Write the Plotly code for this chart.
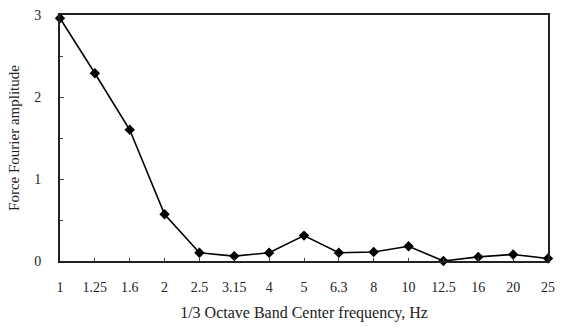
import plotly.graph_objects as go

# 1/3 octave band centre frequencies (Hz) and force Fourier amplitudes
bands = ["1", "1.25", "1.6", "2", "2.5", "3.15", "4", "5", "6.3", "8", "10", "12.5", "16", "20", "25"]
amplitude = [2.96, 2.29, 1.60, 0.57, 0.10, 0.06, 0.10, 0.31, 0.10, 0.11, 0.18, 0.00, 0.05, 0.08, 0.03]

idx = list(range(len(bands)))

fig = go.Figure()
fig.add_trace(go.Scatter(
    x=idx, y=amplitude, mode="lines+markers",
    line=dict(color="black", width=1.6),
    marker=dict(symbol="diamond", size=8, color="black"),
    cliponaxis=False,
    showlegend=False,
))

serif = "Liberation Serif, Times New Roman, serif"
tick_font = dict(family=serif, size=14, color="#222")
xtitle_font = dict(family=serif, size=16, color="#222")
ytitle_font = dict(family=serif, size=15, color="#222")

fig.update_layout(
    width=563, height=327,
    margin=dict(l=60, r=8, t=12, b=66),
    paper_bgcolor="white", plot_bgcolor="white",
    font=tick_font,
)
fig.update_xaxes(
    range=[0, len(bands) - 1],
    tickmode="array", tickvals=idx, ticktext=bands,
    ticks="inside", ticklen=3, tickcolor="#444",
    tickfont=tick_font, ticklabelstandoff=12,
    showgrid=False, zeroline=False,
    showline=True, linecolor="#222", linewidth=2, mirror=True,
    title=dict(text="1/3 Octave Band Center frequency, Hz", font=xtitle_font, standoff=13),
)
fig.update_yaxes(
    range=[0, 3],
    tickmode="array", tickvals=[0, 1, 2, 3], ticktext=["0", "1", "2", "3"],
    ticks="inside", ticklen=4, tickcolor="#444",
    minor=dict(tickvals=[0.5, 1.5, 2.5], ticks="inside", ticklen=3, tickcolor="#444"),
    tickfont=tick_font, ticklabelstandoff=14,
    showgrid=False, zeroline=False,
    showline=True, linecolor="#222", linewidth=2, mirror=True,
    title=dict(text="Force Fourier amplitude", font=ytitle_font, standoff=11),
)

fig.write_html("out.html")
